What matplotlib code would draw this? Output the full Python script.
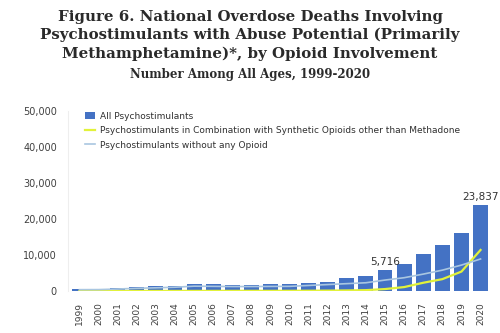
import matplotlib.pyplot as plt
import numpy as np

years = [str(y) for y in range(1999, 2021)]
all_psycho = [547, 578, 802, 1092, 1303, 1520, 1930, 1865, 1802, 1797, 1846, 1854,
              2266, 2635, 3627, 4298, 5716, 7542, 10333, 12676, 16167, 23837]
with_synth = [10, 15, 20, 25, 30, 35, 40, 45, 50, 60, 60, 70,
              90, 120, 170, 250, 550, 1100, 2300, 3300, 5400, 11400]
no_opioid = [380, 400, 560, 760, 900, 1060, 1350, 1300, 1250, 1250, 1280, 1300,
             1550, 1800, 2050, 2300, 3050, 3700, 4700, 5800, 7200, 8900]

fig = plt.figure(figsize=(5, 3.33), dpi=100)
ax = fig.add_axes([0.136, 0.126, 0.848, 0.541])
x = np.arange(len(years))

b = ax.bar(x, all_psycho, width=0.78, color="#4472C4", label="All Psychostimulants")
l1, = ax.plot(x, with_synth, color="#E2F23A", lw=1.6,
              label="Psychostimulants in Combination with Synthetic Opioids other than Methadone")
l2, = ax.plot(x, no_opioid, color="#A9C6E0", lw=1.2, label="Psychostimulants without any Opioid")

for i in (16, 21):
    ax.text(x[i], all_psycho[i] + 900, f"{all_psycho[i]:,}", ha="center", va="bottom",
            fontsize=7.5, color="#333333")

ax.set_ylim(0, 50000)
ax.set_xlim(-0.6, len(years) - 0.4)
ax.set_yticks(range(0, 50001, 10000))
ax.set_yticklabels([f"{v:,}" for v in range(0, 50001, 10000)], fontsize=7, color="#404040")
ax.set_xticks(x)
ax.set_xticklabels(years, rotation=90, fontsize=6.5, color="#404040")
ax.tick_params(length=0, pad=8)
for s in ("top", "right", "bottom"):
    ax.spines[s].set_visible(False)
ax.spines["left"].set_color("#EEEEEE")

ax.legend([b, l1, l2], [b.get_label(), l1.get_label(), l2.get_label()],
          loc="upper left", bbox_to_anchor=(0.02, 1.04), frameon=False, fontsize=6.5,
          handlelength=1.2, handletextpad=0.5, labelspacing=0.6, labelcolor="#303030")

fig.text(0.5, 0.97, "Figure 6. National Overdose Deaths Involving\n"
         "Psychostimulants with Abuse Potential (Primarily\n"
         "Methamphetamine)*, by Opioid Involvement",
         ha="center", va="top", fontsize=10.8, fontweight="bold", family="DejaVu Serif",
         color="#2a2a2a", linespacing=1.35)
fig.text(0.5, 0.795, "Number Among All Ages, 1999-2020", ha="center", va="top",
         fontsize=8.5, fontweight="bold", family="DejaVu Serif", color="#2a2a2a")

fig.savefig("out.png", dpi=100)
